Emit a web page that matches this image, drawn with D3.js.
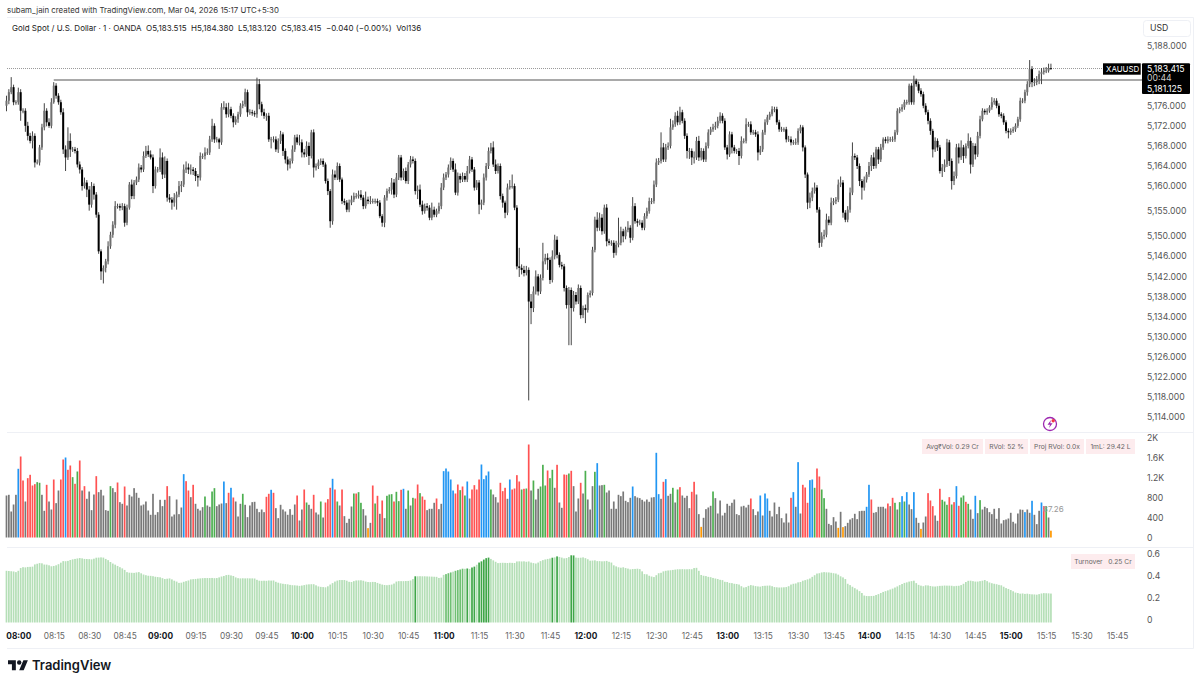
<!DOCTYPE html>
<html>
<head>
<meta charset="utf-8">
<script src="https://cdn.jsdelivr.net/npm/d3@7/dist/d3.min.js"></script>
<style>
  html, body { margin: 0; padding: 0; background: #fff; }
  svg { display: block; font-family: Inter, "Noto Sans", sans-serif; }
  .tick line, .domain { display: none; }
</style>
</head>
<body>
<svg id="chart" width="1200" height="685"></svg>
<script>
// values, one row = 20 one-minute bars, first bar 07:55
var firstOpen = 5176;
var closes = [
5177,5178.7,5179.7,5176.7,5176.7,5178.7,5175,5175,5172,5170,5169,5170,5164.7,5164.7,5167.7,5171.7,5175,5172.7,5172,5176.7,
5180,5178,5176.7,5174.7,5167.3,5165.7,5169,5167.3,5167.3,5167,5164.3,5163.3,5160,5160.7,5159.3,5156.3,5160,5158.3,5154.3,5147,
5143,5143.7,5145,5148,5150.3,5152.3,5156,5156,5155.7,5156,5152.7,5155.7,5160.3,5158,5160.7,5161.3,5163.7,5163.3,5166,5167,
5166.3,5165.7,5160,5163.3,5163.3,5165.7,5162.3,5165,5157.7,5157.3,5156.7,5157.7,5158.3,5160,5160.3,5163.3,5163.7,5163.3,5163.3,5163,
5162,5161.7,5166,5166,5166.7,5166.7,5169.3,5172,5169.3,5169.3,5168.7,5175.7,5175.7,5174.3,5175.3,5174,5172.7,5173.3,5174.3,5176,
5176.3,5178.7,5174.7,5174.7,5174.5,5174.3,5180.3,5176.3,5174.7,5174,5174,5169.3,5169.3,5169.3,5167.3,5169,5170.3,5167,5165.3,5164.3,
5165,5167.3,5169.7,5168.7,5168.7,5166.7,5166.3,5168,5166,5170.7,5163.7,5164,5164.7,5165,5164.3,5161,5159,5153,5162.3,5161.7,
5164,5161.3,5157,5156.7,5155.3,5156.7,5157.3,5158,5158,5158.3,5157.7,5156,5157.3,5157,5157,5157,5157,5156.7,5154,5152.7,
5157.7,5159,5159.3,5160.7,5158.3,5161.7,5165.7,5161.7,5163,5161,5164.3,5165.3,5165,5159,5159.3,5156.3,5155,5156,5155.7,5153.7,
5155.3,5154.3,5155,5156,5159.7,5161.7,5162.3,5163.7,5165,5163.3,5158.7,5162,5161.3,5162,5161.3,5163,5165.3,5163.3,5159.7,5160.7,
5156.3,5156.7,5161.7,5164,5167,5167.7,5164.3,5163,5164,5158,5156.7,5154.7,5159.7,5160,5160,5155.7,5144,5143.7,5143.3,5142.7,
5143.3,5137,5135.7,5139,5142,5139,5141.7,5145,5145.7,5145.3,5141.3,5146,5149.3,5146.3,5144.3,5144,5139.7,5136.3,5139.3,5135.7,
5138.3,5137,5139.7,5134.3,5135.7,5135.3,5138.3,5138.7,5147.3,5153.3,5151.7,5153.7,5151,5155.7,5149,5148.7,5148.7,5146.7,5148.3,5148.7,
5151,5150,5151.3,5151.7,5149.7,5156,5153,5152.7,5152.7,5151.7,5154,5155,5157,5157,5160.3,5164.7,5165,5167.7,5165.3,5167.7,
5168,5171.7,5172.3,5174,5172.7,5174.7,5173,5170,5167,5167,5165.7,5165.7,5169,5165.7,5167,5165.3,5168,5170.7,5171.3,5171.7,
5172,5173,5174,5173,5167.7,5166.3,5170.3,5167.7,5167,5167,5166,5169,5169,5172.3,5172.3,5170.7,5170.7,5170.3,5166.7,5167.3,
5170.7,5172.7,5173.7,5174.3,5175.3,5175.3,5172.7,5171.3,5171.3,5171.3,5169.3,5169.3,5168.7,5168.7,5168.7,5171,5171.7,5167.7,5162.3,5156.7,
5157.7,5159,5159.7,5155.3,5148.7,5150,5150.3,5153.3,5152.7,5156.7,5157,5157.3,5160.3,5160.7,5154.7,5153.3,5155.3,5158.7,5166,5165.7,
5164,5161,5159.7,5161.3,5162.3,5164,5165.7,5164,5167.3,5165.3,5167.7,5169.3,5169,5169.3,5169.3,5169.3,5170.7,5175,5175.3,5175.7,
5176.7,5176.7,5180,5176.7,5181,5180.3,5179,5178.3,5176,5174.7,5173,5171,5167.3,5169,5167.7,5163,5163.7,5164.3,5168.7,5165,
5161,5162,5167.7,5165.7,5167.7,5166,5168,5169,5164.3,5168,5166.3,5170,5173.3,5175,5174.7,5175,5175.7,5176.7,5177,5176,
5174.3,5174,5172.7,5171,5170.7,5171,5171.3,5172,5173.3,5177,5177,5178.7,5180.3,5183.3,5180.7,5180.7,5181,5182.3,5182.7,5183,
5183,5183.515,5183.415];
var wickUp = [
1,.6,2,.5,.4,.9,.6,.5,.5,.8,.6,.9,.5,.6,.5,.7,1.5,.5,.8,.8,
.7,.5,.5,.5,.8,.8,2.7,1.5,.5,.5,.6,.6,.5,1,.5,.7,.8,.5,.5,.5,
.4,.5,.5,1,.6,.7,1,.5,.5,.6,.5,.6,.5,1,.5,.6,.8,.5,.9,1,
1.1,.8,.6,.6,.5,1.8,1,.9,.5,.7,.5,.9,.6,1,.7,1,1.2,.8,1,.5,
.6,.4,.7,.5,1,.8,.7,1.4,.5,.5,.3,.8,1.2,.8,1.3,.5,.5,.6,.5,.5,
.7,.7,.5,.6,.5,.5,1.3,1,.5,.7,.5,.6,.5,.6,.6,.5,.7,.4,.5,.6,
.5,.8,.5,.6,1.5,.6,.7,.9,.7,.5,.6,.5,.6,.5,.5,.4,.5,.4,1,.8,
.7,.5,.4,.5,.5,.6,.8,.7,.6,.8,.9,.5,1.6,.6,1,.5,.5,.5,.5,.4,
.5,.5,.5,.9,.7,.9,.5,.5,.5,.7,.5,.7,.6,.5,.8,1,.8,.5,.6,.5,
1.4,.6,.5,.7,.9,.8,.5,.6,.7,.5,1.2,.7,.5,.7,.6,1,.7,.5,.5,.5,
.5,.6,.8,.6,.7,.9,1.2,1,.5,.5,.5,.4,.8,1.2,2.3,.5,.5,3.7,.7,.8,
.8,.5,1.5,1,1.2,.5,.7,3.7,.8,.9,.5,1.2,1,.7,.5,.6,.5,.5,.6,.5,
.8,.6,.7,.5,.5,.7,.5,.5,.6,.6,1.5,1,.7,.6,.7,.5,.5,.5,.8,5,
.9,.5,.6,1.3,.5,1.8,.6,.5,.6,.5,.6,.7,.7,.6,.8,.8,.6,3,.9,.7,
.7,1.7,.8,.7,1,1.1,.5,.5,.5,.6,.5,1.2,.8,1,.6,.5,.7,.6,.5,.7,
.8,.8,.7,.5,.5,.5,.6,.5,.5,.4,.6,.9,.5,1.2,.5,.6,.5,.5,.6,.7,
.5,.6,.5,.5,.6,.5,.5,.5,.5,.4,.5,.7,.6,.5,.8,.5,.5,.4,.4,.4,
1,.7,1,.5,.5,.8,1,1.2,.7,1,.6,.5,1,1.2,.5,.5,.7,1,2.7,.5,
.5,.5,.4,.6,.5,.8,.5,1,.5,.5,.7,.4,.5,.6,.5,.6,.5,.5,.4,.6,
.5,.5,.4,.5,1,.4,.5,.5,.5,.5,.5,.5,.4,.7,.5,.5,.7,1,.7,.5,
.5,.9,.7,.8,1.4,.5,.5,1.5,.7,.6,.5,.8,.7,.5,.4,.5,.4,1,.5,.5,
.5,.4,.5,.4,.5,.5,.5,.5,.5,.6,.5,.5,.6,1.8,.6,.8,.9,.7,.8,.6,
.7,.86,.865];
var wickDown = [
1.1,.7,.4,.6,.5,.5,2,.5,1.2,.9,.5,1.5,1,.4,.6,.5,.6,.8,.4,.5,
.3,.6,.5,.5,.9,2.7,.5,1.5,.5,.5,.6,.8,.9,.5,1.5,1.2,.6,1,.6,.5,
1.7,2.4,.9,.6,.5,.6,.7,.5,.6,.5,.8,.5,.4,.6,.6,.5,.5,.6,.5,.4,
.5,.4,1.4,.5,.6,.5,.9,.7,.8,.6,1.4,.8,2.4,.5,1.2,.5,.7,.9,1,.8,
1,1.8,.6,.6,.7,.5,.5,.5,.7,.6,1.3,.5,.5,.7,.6,.5,1,.5,.7,.5,
.5,.5,.9,.5,.5,.5,.7,1,.7,.6,1,.5,1.8,.6,.5,.7,.6,1,.8,1.2,
.8,.5,.5,.5,.6,1,.6,.5,1.8,.5,2,.6,.6,.5,.5,.5,.8,1.3,.7,.5,
.5,.5,.6,.5,.5,.5,.5,.5,.5,.5,.5,.6,.5,.6,.6,.5,.5,.7,.4,.8,
.9,.6,.5,1,.7,.5,.5,.6,.5,.5,.6,.6,.5,.7,1.6,.5,.7,.5,.6,.5,
.5,.5,.5,.5,.6,.5,.5,.6,.5,.5,.5,.6,.7,.5,.5,.5,.5,.5,.6,.5,
1.9,1,.5,.6,.6,.5,.5,.6,.5,.7,1,1.1,.5,.4,.5,.5,.6,1.8,.9,.7,
.5,19.7,3.2,.8,.6,.8,.5,.5,.6,2,.8,.5,.6,.7,.5,.6,.7,.7,8,7.4,
.7,.6,.5,.7,.6,2.6,.5,.5,.5,.5,.7,.6,.7,.5,1,.5,.6,1,.5,.5,
.5,1.2,.6,.5,1,.5,.5,.8,.5,.5,.5,.5,.5,.6,.5,.5,.5,.5,.5,.5,
.5,.5,.5,.5,.6,.5,.5,.6,1.5,1.6,1.5,1.2,.5,.7,.6,.5,.5,.5,.5,.5,
.5,.5,.5,.5,.5,1,.5,1.2,.5,.6,1.8,.5,.5,.5,.5,.5,.5,.5,1.6,.5,
.5,.5,.5,.5,.4,.6,.5,.5,.5,.5,.6,.5,.6,.5,.5,.5,.5,.8,.7,1.3,
1.1,.7,.5,.6,1,.8,.6,.5,.5,.5,.5,.6,.5,.5,1,.5,.5,.6,.5,.5,
.6,1,2.4,.6,.6,.5,1,.6,.5,.9,.5,.5,.5,.5,.5,.5,.5,.5,.5,.5,
.5,.5,.5,.5,.5,.5,.5,.5,.5,.5,.7,.8,1.6,.5,.7,.5,1.2,.9,.5,1,
1.7,.8,.5,1.2,.5,1.4,.5,.5,1.8,.5,1,.5,.5,.4,.5,.5,.4,.5,.5,.5,
.5,.5,.5,.5,1.2,.5,.4,.5,.4,.5,.5,.5,.7,.6,1,.8,.6,.7,2,.5,
.5,.4,.295];
var volumes = [
840,854,520,660,854,1374,1620,1140,720,1187,1254,1040,1067,1107,1094,854,534,1054,720,560,
1160,687,940,1160,1560,1600,1354,1440,1207,1074,1320,1540,940,1027,774,920,547,860,1227,907,
954,840,547,534,1027,987,907,1100,707,674,1020,640,854,820,987,894,794,640,660,720,
540,454,874,454,507,754,627,754,1027,827,420,460,760,467,600,1267,1127,940,807,1054,
674,574,540,607,820,640,614,920,987,627,660,680,1120,687,894,994,800,720,420,674,
874,654,407,640,707,714,574,507,560,507,814,874,
954,894,587,387,654,560,520,454,567,454,660,840,340,560,960,700,654,574,854,500,
460,720,400,700,767,994,1174,960,720,640,960,427,293,374,620,880,880,907,694,567,
440,187,293,1040,680,834,474,740,387,834,860,867,720,914,727,954,974,574,940,640,
794,780,1060,887,820,754,547,574,574,694,780,567,674,1327,1380,1320,1160,940,880,1060,
947,1020,840,1120,780,960,1047,960,1160,1460,1167,1240,1320,960,860,807,700,1094,927,994,
774,1160,960,980,1247,1120,960,974,980,1860,940,1140,
760,974,1020,1454,1040,1340,1187,1354,994,1454,700,594,1260,1254,1280,1334,1027,520,780,1094,
880,1334,760,560,1027,1314,1487,1040,1047,1054,900,940,574,720,574,854,827,920,734,707,
794,1020,827,800,787,754,720,760,714,800,807,1694,867,774,1114,1167,834,874,994,700,
960,1007,840,794,834,587,914,1114,860,467,213,394,567,600,634,920,787,480,740,440,
494,674,634,694,760,467,447,620,634,600,654,780,567,447,520,840,440,880,780,534,
420,700,467,614,387,300,480,300,794,907,614,1507,480,
1054,1000,694,1147,1160,994,1380,1220,960,787,574,273,247,407,320,193,514,207,227,293,
360,387,474,367,527,534,534,614,1054,760,494,507,614,614,614,580,680,627,794,694,
560,707,827,720,907,660,567,907,394,293,173,300,420,887,740,627,440,334,974,754,
720,654,807,660,707,1027,634,800,840,714,674,560,374,834,487,747,560,614,587,507,
467,574,374,587,280,347,360,380,494,314,280,480,560,554,507,560,494,734,454,267,
534,700,627,627,400,136];
// d gray, r red, g green, b blue, o orange
var volumeKinds = (
"dddddbrrdr"+"rrrggddrdd"+"rddrrbrrgr"+"grdrddddrd"+"ddddgddrdd"+"rddddddddd"+"ddddddddrd"+"dddddbrrdr"+"ddddgddggd"+"ddbdrbrddd"+"gddddddddd"+"rr"+
"brdddddddd"+"drddrgddrd"+"dgdrrrbrgd"+"rddddgrggd"+"dodrgrdrdg"+"ggrggrbdgd"+"grrgrrdddd"+"rddbbbbbrr"+"grgbdrrrrb"+"bbbgdddrrr"+"dbrrrrgrgr"+"dg"+
"ddgggrggdr"+"ddrrgrdddr"+"dgdddgbddg"+"dddddddddd"+"dbdddddddd"+"dbbdrbddgd"+"grddddrrdd"+"oddddgdddd"+"dddddddddd"+"drdddbdbbd"+"ddddddddrb"+"dbd"+
"rrrbbgrrgg"+"dddddododd"+"dddddddbbr"+"ddddddrdrg"+"dgbgbddbdd"+"oddrrrddrg"+"ggrgrbrggr"+"gddbdgdddd"+"dddddddddd"+"ddddbddbdd"+"dbrgdo").split("");
var turnover = [
.470,.468,.466,.464,.458,.470,.495,.503,.501,.505,.506,.508,.528,.534,.540,.538,.527,.526,.520,.511,
.514,.520,.530,.544,.558,.557,.560,.568,.574,.578,.582,.586,.583,.578,.577,.576,.574,.580,.589,.590,
.592,.590,.578,.567,.550,.536,.526,.514,.503,.492,.478,.458,.453,.452,.451,.455,.458,.447,.436,.430,
.425,.424,.421,.416,.413,.411,.403,.395,.398,.401,.392,.380,.372,.360,.362,.370,.376,.382,.392,.394,
.396,.399,.401,.403,.404,.404,.404,.405,.403,.404,.410,.418,.423,.431,.433,.428,.423,.410,.403,.401,
.402,.401,.402,.401,.401,.400,.388,.380,.379,.380,.379,.382,.381,.382,.370,.362,.356,.352,.349,.347,
.342,.339,.338,.336,.333,.336,.340,.345,.347,.348,.348,.338,.328,.324,.322,.320,.329,.345,.358,.372,
.381,.386,.386,.386,.380,.370,.368,.376,.382,.383,.384,.380,.372,.368,.367,.369,.368,.360,.352,.345,
.341,.339,.342,.345,.354,.372,.376,.376,.376,.377,.378,.382,.395,.420,.420,.421,.420,.420,.419,.418,
.417,.416,.415,.405,.408,.433,.440,.448,.455,.462,.470,.476,.482,.489,.488,.491,.487,.500,.508,.525,
.545,.556,.572,.585,.590,.578,.565,.552,.540,.542,.543,.542,.541,.543,.542,.541,.555,.556,.555,.556,
.552,.555,.545,.540,.536,.545,.558,.567,.573,.578,.582,.589,.592,.601,.596,.590,.583,.586,.595,.611,
.610,.590,.588,.589,.592,.585,.575,.562,.563,.565,.558,.558,.556,.557,.560,.552,.545,.520,.510,.502,
.498,.502,.495,.490,.483,.486,.487,.489,.485,.465,.440,.438,.425,.418,.413,.430,.448,.452,.465,.470,
.473,.475,.478,.481,.484,.484,.485,.484,.484,.485,.484,.495,.497,.470,.432,.425,.422,.415,.412,.405,
.400,.395,.388,.385,.370,.368,.360,.358,.352,.350,.345,.330,.318,.322,.333,.340,.336,.331,.328,.326,
.332,.334,.335,.336,.330,.322,.320,.318,.319,.320,.322,.330,.345,.352,.355,.365,.368,.380,.385,.392,
.400,.415,.430,.445,.448,.455,.458,.456,.455,.452,.448,.445,.435,.420,.410,.395,.352,.340,.325,.312,
.300,.285,.268,.245,.241,.240,.241,.242,.250,.258,.268,.278,.285,.292,.300,.308,.318,.328,.340,.350,
.360,.365,.372,.376,.380,.358,.342,.335,.330,.338,.337,.332,.328,.327,.330,.333,.334,.336,.335,.335,
.334,.330,.333,.334,.340,.352,.368,.379,.380,.376,.372,.372,.376,.380,.386,.376,.364,.357,.352,.348,
.342,.338,.325,.313,.305,.295,.284,.272,.268,.262,.264,.260,.262,.258,.256,.255,.253,.258,.264,.267,
.266,.265,.263];
var turnoverMid = [186,187,188,190,191,192,193];
var turnoverDark = [173,195,197,198,200,201,202,203,204,231,233,239,240];

// 5,180 and 5,184 sit behind the last price tag, so they are left out
var priceTicks = [5114,5118,5122,5126,5130,5134,5138,5142,5146,5150,5155,5160,5164,5168,5172,5176,5188];
var volumeTicks = [0,400,800,1200,1600,2000];
var turnoverTicks = [0,0.2,0.4,0.6];
var timeTicks = ["08:00","08:15","08:30","08:45","09:00","09:15","09:30","09:45","10:00","10:15","10:30","10:45","11:00","11:15","11:30","11:45",
  "12:00","12:15","12:30","12:45","13:00","13:15","13:30","13:45","14:00","14:15","14:30","14:45","15:00","15:15","15:30","15:45"];
var lastPrice = 5183.415, linePrice = 5181.125;

var svg = d3.select("#chart");
var toMin = function(t) { var p = t.split(":"); return +p[0] * 60 + +p[1]; };
var barMin = function(i) { return 475 + i; };   // first bar 07:55

var x = d3.scaleLinear().domain([480, 915]).range([18.3, 1046.2]);
var yPrice = d3.scaleLinear().domain([5114, 5188]).range([417, 45.5]);
var yVol = d3.scaleLinear().domain([0, 2000]).range([537.5, 437.5]);
var yTurn = d3.scaleLinear().domain([0, 0.6]).range([622.5, 556.5]);

// frame + pane separators
var frame = svg.append("g").attr("stroke", "#eef0f5").attr("fill", "none");
frame.append("path").attr("d", "M7 17.5H1193.5V648.5H7");
frame.append("path").attr("d", "M7 432.5H1193.5M7 547.5H1193.5");

// header
svg.append("text").attr("x", 7).attr("y", 13).attr("font-size", 7.85).attr("fill", "#333")
  .text("subam_jain created with TradingView.com, Mar 04, 2026 15:17 UTC+5:30");
svg.append("text").attr("x", 12).attr("y", 31).attr("font-size", 8).attr("fill", "#222").attr("xml:space", "preserve")
  .text("Gold Spot / U.S. Dollar · 1 · OANDA  O5,183.515  H5,184.380  L5,183.120  C5,183.415  −0.040 (−0.00%)  Vol136");

// price + time lines
svg.append("line").attr("x1", 7).attr("x2", 1103).attr("y1", yPrice(lastPrice)).attr("y2", yPrice(lastPrice))
  .attr("stroke", "#999").attr("stroke-dasharray", "1 1");
svg.append("line").attr("x1", x(barMin(20))).attr("x2", 1142).attr("y1", yPrice(linePrice)).attr("y2", yPrice(linePrice))
  .attr("stroke", "#555").attr("stroke-width", 1.2);

// candles
var candles = closes.map(function(c, i) {
  var o = i ? closes[i - 1] : firstOpen;
  return { i: i, o: o, c: c, h: Math.max(o, c) + wickUp[i], l: Math.min(o, c) - wickDown[i] };
});
var candle = svg.append("g").selectAll("g").data(candles).join("g");
candle.append("line")
  .attr("x1", function(d) { return x(barMin(d.i)); }).attr("x2", function(d) { return x(barMin(d.i)); })
  .attr("y1", function(d) { return yPrice(d.h); }).attr("y2", function(d) { return yPrice(d.l); })
  .attr("stroke", "#444").attr("stroke-width", 1);
candle.append("rect")
  .attr("x", function(d) { return x(barMin(d.i)) - 1; }).attr("width", 2)
  .attr("y", function(d) { return yPrice(Math.max(d.o, d.c)); })
  .attr("height", function(d) { return Math.max(0.8, Math.abs(yPrice(d.o) - yPrice(d.c))); })
  .attr("fill", function(d) { return d.c >= d.o ? "#707070" : "#000"; });

// volume pane
var volColor = { d: "#787878", r: "#ff5252", g: "#4caf50", b: "#2196f3", o: "#ff9800" };
svg.append("g").selectAll("rect").data(volumes).join("rect")
  .attr("x", function(d, i) { return x(barMin(i)) - 0.85; }).attr("width", 1.7)
  .attr("y", function(d) { return yVol(d); })
  .attr("height", function(d) { return yVol(0) - yVol(d); })
  .attr("fill", function(d, i) { return volColor[volumeKinds[i]]; });

// turnover pane
svg.append("g").selectAll("rect").data(turnover).join("rect")
  .attr("x", function(d, i) { return x(barMin(i)) - 0.85; }).attr("width", 1.7)
  .attr("y", function(d) { return yTurn(d); })
  .attr("height", function(d) { return yTurn(0) - yTurn(d); })
  .attr("fill", function(d, i) {
    if (turnoverDark.indexOf(i) >= 0) return "#3fa648";
    if (turnoverMid.indexOf(i) >= 0) return "#6fc073";
    return "#b5dfb7";
  });

// right axes
function rightAxis(scale, ticks, fmt, dy) {
  var g = svg.append("g").attr("transform", "translate(1143,0)")
    .call(d3.axisRight(scale).tickValues(ticks).tickSize(0).tickPadding(4).tickFormat(fmt));
  g.selectAll("text").attr("fill", "#555").attr("font-size", 8.7).attr("font-family", "Inter").attr("dy", dy);
  return g;
}
rightAxis(yPrice, priceTicks, d3.format(",.3f"), "0.3em");
rightAxis(yVol, volumeTicks, function(v) { return v >= 1000 ? (v / 1000) + "K" : v; }, "0.3em");
rightAxis(yTurn, turnoverTicks, function(v) { return v; }, "0.05em");

// time axis
var timeAxis = svg.append("g").attr("transform", "translate(0,633)")
  .call(d3.axisBottom(x).tickValues(timeTicks.map(toMin)).tickSize(0).tickPadding(0)
    .tickFormat(function(m) { return timeTicks[timeTicks.map(toMin).indexOf(m)]; }));
timeAxis.selectAll("text").attr("font-size", 8.3).attr("font-family", "Inter")
  .attr("font-weight", function(m) { return m % 60 === 0 ? 700 : 400; })
  .attr("fill", function(m) { return m % 60 === 0 ? "#131722" : "#666"; });

// USD box
svg.append("rect").attr("x", 1143.5).attr("y", 20.5).attr("width", 47).attr("height", 16).attr("rx", 3)
  .attr("fill", "#fff").attr("stroke", "#eef0f5");
svg.append("text").attr("x", 1150).attr("y", 31).attr("font-size", 8.7).attr("fill", "#333").text("USD");

// last price tags
svg.append("rect").attr("x", 1103).attr("y", 63.3).attr("width", 37.7).attr("height", 11.4).attr("fill", "#000");
svg.append("text").attr("x", 1106).attr("y", 72).attr("font-size", 7.9).attr("fill", "#fff").text("XAUUSD");
svg.append("rect").attr("x", 1142).attr("y", 63.3).attr("width", 48).attr("height", 30.7).attr("rx", 1).attr("fill", "#000");
svg.append("text").attr("x", 1147).attr("y", 71.5).attr("font-size", 8.7).attr("fill", "#fff").text(d3.format(",.3f")(lastPrice));
svg.append("text").attr("x", 1147).attr("y", 80.5).attr("font-size", 8.7).attr("fill", "#ccc").text("00:44");
svg.append("text").attr("x", 1147).attr("y", 92).attr("font-size", 8.7).attr("fill", "#fff").text(d3.format(",.3f")(linePrice));

// indicator pills
var pills = [
  { x: 922, w: 61, y: 439, t: "Avg₹Vol: 0.29 Cr" },
  { x: 985, w: 43, y: 439, t: "RVol: 52 %" },
  { x: 1030, w: 54, y: 439, t: "Proj RVol: 0.0x" },
  { x: 1086, w: 49, y: 439, t: "1mL: 29.42 L" },
  { x: 1071, w: 64, y: 554, t: "Turnover   0.25 Cr" }
];
var pill = svg.append("g").selectAll("g").data(pills).join("g");
pill.append("rect").attr("x", function(d) { return d.x; }).attr("y", function(d) { return d.y; })
  .attr("width", function(d) { return d.w; }).attr("height", 15).attr("fill", "#fdecee");
pill.append("text").attr("x", function(d) { return d.x + d.w / 2; }).attr("y", function(d) { return d.y + 10.3; })
  .attr("text-anchor", "middle").attr("font-size", 6.7).attr("fill", "#666").attr("xml:space", "preserve")
  .text(function(d) { return d.t; });
svg.append("text").attr("x", 1043).attr("y", 512).attr("font-size", 8).attr("fill", "#999").text("87.26");

// lightning badge
var badge = svg.append("g").attr("transform", "translate(1050,424)");
badge.append("circle").attr("r", 6.5).attr("fill", "#fff").attr("stroke", "#9c27b0").attr("stroke-width", 1.3);
badge.append("path").attr("d", "M1 -4L-2.5 0.8H0L-1 4L2.6 -0.8H0.2Z").attr("fill", "#9c27b0");
badge.append("circle").attr("cx", 3.2).attr("cy", -3.2).attr("r", 1.7).attr("fill", "#f23645");

// logo
svg.append("path").attr("transform", "translate(8,658) scale(0.56)")
  .attr("d", "M14 22H7V11H0V4h14v18zM28 22h-8l7.5-18h8L28 22z").attr("fill", "#131722");
svg.append("circle").attr("cx", 8 + 20 * 0.56).attr("cy", 658 + 8 * 0.56).attr("r", 2.2).attr("fill", "#131722");
svg.append("text").attr("x", 32).attr("y", 670).attr("font-size", 13).attr("font-weight", 600).attr("fill", "#131722").text("TradingView");
</script>
</body>
</html>
